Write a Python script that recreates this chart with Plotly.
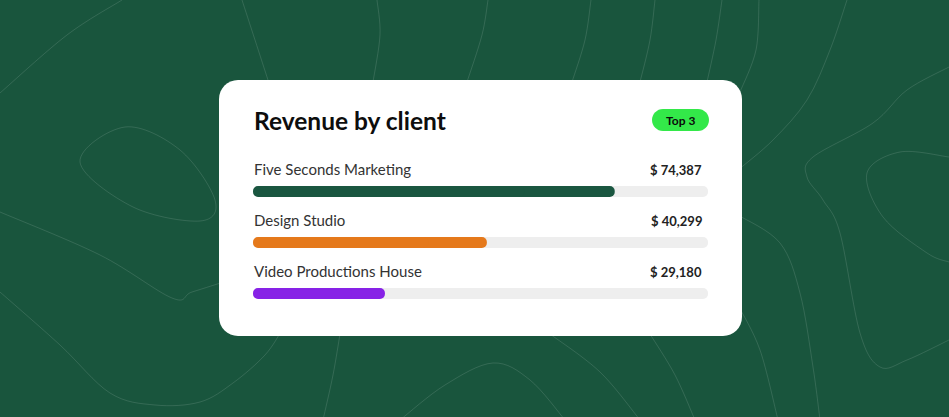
import plotly.graph_objects as go

W, H = 949, 417

# ---- data ----
clients = ["Five Seconds Marketing", "Design Studio", "Video Productions House"]
revenue = [74387, 40299, 29180]
progress = [79.5, 51.4, 29.0]          # filled share of each track, percent
bar_colors = ["#1a5640", "#e5791b", "#8722e6"]
title_text = "Revenue by client"
badge_text = "Top 3"

BG = "#19553d"
LINE = "rgba(255,255,255,0.12)"
FONT = "Lato"


def px(x):
    return x / W


def py(y):
    return 1 - y / H


def smooth_path(points, closed=False):
    pts = [(px(x), py(y)) for x, y in points]
    n = len(pts)
    if closed:
        get = lambda i: pts[i % n]
        segs = range(n)
    else:
        get = lambda i: pts[min(max(i, 0), n - 1)]
        segs = range(n - 1)
    d = "M %.5f,%.5f" % pts[0]
    for i in segs:
        p0, p1, p2, p3 = get(i - 1), get(i), get(i + 1), get(i + 2)
        c1 = (p1[0] + (p2[0] - p0[0]) / 6, p1[1] + (p2[1] - p0[1]) / 6)
        c2 = (p2[0] - (p3[0] - p1[0]) / 6, p2[1] - (p3[1] - p1[1]) / 6)
        d += " C %.5f,%.5f %.5f,%.5f %.5f,%.5f" % (c1 + c2 + p2)
    if closed:
        d += " Z"
    return d


def round_rect(x0, y0, x1, y1, r):
    k = 0.5523 * r
    P = lambda x, y: "%.5f,%.5f" % (px(x), py(y))
    return (
        "M " + P(x0 + r, y0)
        + " L " + P(x1 - r, y0)
        + " C " + P(x1 - r + k, y0) + " " + P(x1, y0 + r - k) + " " + P(x1, y0 + r)
        + " L " + P(x1, y1 - r)
        + " C " + P(x1, y1 - r + k) + " " + P(x1 - r + k, y1) + " " + P(x1 - r, y1)
        + " L " + P(x0 + r, y1)
        + " C " + P(x0 + r - k, y1) + " " + P(x0, y1 - r + k) + " " + P(x0, y1 - r)
        + " L " + P(x0, y0 + r)
        + " C " + P(x0, y0 + r - k) + " " + P(x0 + r - k, y0) + " " + P(x0 + r, y0)
        + " Z"
    )


# decorative contour lines (background only)
contours_open = [
    [(122, 0), (67, 35), (0, 93)],
    [(0, 212), (100, 255), (172, 298), (192, 292), (230, 280)],
    [(0, 292), (60, 345), (110, 393), (155, 405), (200, 402), (233, 383), (265, 355), (282, 330)],
    [(242, 0), (255, 40), (268, 80)],
    [(377, 0), (380, 35), (373, 82)],
    [(488, 0), (482, 35), (467, 82)],
    [(591, 0), (585, 40), (572, 82)],
    [(655, 0), (650, 40), (640, 82)],
    [(722, 0), (716, 40), (707, 82)],
    [(759, 0), (756, 50), (740, 92)],
    [(847, 0), (830, 50), (807, 100), (773, 140), (738, 170)],
    [(949, 67), (907, 90), (873, 123), (813, 157), (807, 177), (823, 200), (840, 233),
     (860, 333), (880, 367), (907, 360), (949, 340)],
    [(949, 157), (900, 152), (867, 173), (883, 217), (927, 253), (949, 262)],
    [(738, 215), (780, 243), (800, 293), (813, 367), (820, 420)],
    [(738, 305), (760, 350), (778, 420)],
    [(340, 334), (333, 375), (323, 420)],
    [(400, 420), (445, 385), (493, 363), (530, 380), (565, 420)],
    [(550, 334), (600, 372), (640, 420)],
    [(650, 334), (675, 375), (695, 420)],
]
contours_closed = [
    [(125, 127), (80, 162), (133, 207), (200, 221), (215, 200), (180, 150)],
]

shapes = []
for pts in contours_open:
    shapes.append(dict(type="path", xref="paper", yref="paper", layer="below",
                       path=smooth_path(pts), line=dict(color=LINE, width=1)))
for pts in contours_closed:
    shapes.append(dict(type="path", xref="paper", yref="paper", layer="below",
                       path=smooth_path(pts, closed=True), line=dict(color=LINE, width=1)))

# card
shapes.append(dict(type="path", xref="paper", yref="paper", layer="below",
                   path=round_rect(219, 80, 742, 336, 19),
                   fillcolor="#ffffff", line=dict(width=0)))
# badge
shapes.append(dict(type="path", xref="paper", yref="paper", layer="below",
                   path=round_rect(652, 109, 709, 131, 11),
                   fillcolor="#33e849", line=dict(width=0)))

rows = list(range(len(clients)))
track = [100] * len(rows)
BW = 0.216

fig = go.Figure()
# each bar is drawn as two overlapping pieces growing in opposite directions,
# so that both of its ends get the rounded corners
for vals, colors in ((track, ["#eeeeee"] * len(rows)), (progress, bar_colors)):
    q1 = [v * 0.25 for v in vals]
    q3 = [v * 0.75 for v in vals]
    fig.add_trace(go.Bar(x=q3, base=q1, y=rows, orientation="h", width=BW,
                         marker=dict(color=colors, line=dict(width=0)),
                         hoverinfo="skip"))
    fig.add_trace(go.Bar(x=[-v for v in q3], base=q3, y=rows, orientation="h", width=BW,
                         marker=dict(color=colors, line=dict(width=0)),
                         hoverinfo="skip"))

annotations = [
    dict(text=title_text, xref="paper", yref="paper", x=px(252), y=py(120),
         xanchor="left", yanchor="middle", showarrow=False,
         font=dict(family=FONT, size=24.5, color="#0d0d0d", weight=700)),
    dict(text=badge_text, xref="paper", yref="paper", x=px(680.5), y=py(120),
         xanchor="center", yanchor="middle", showarrow=False,
         font=dict(family=FONT, size=12, color="#0a0a0a", weight=700)),
]
for i, (name, val) in enumerate(zip(clients, revenue)):
    annotations.append(dict(text=name, xref="x domain", yref="y", x=0, y=i,
                            xanchor="left", yanchor="middle", xshift=-1.5, yshift=22.5,
                            showarrow=False,
                            font=dict(family=FONT, size=15, color="#333333")))
    annotations.append(dict(text="$ {:,}".format(val), xref="x domain", yref="y",
                            x=1, y=i, xanchor="right", yanchor="middle",
                            xshift=-4, yshift=21.5, showarrow=False,
                            font=dict(family=FONT, size=13, color="#222222", weight=700)))

fig.update_layout(
    width=W, height=H,
    margin=dict(l=0, r=0, t=0, b=0, pad=0),
    paper_bgcolor=BG, plot_bgcolor="rgba(0,0,0,0)",
    barmode="overlay", barcornerradius=5.5,
    showlegend=False,
    shapes=shapes, annotations=annotations,
    xaxis=dict(domain=[px(253), px(708)], range=[0, 100], visible=False, fixedrange=True),
    yaxis=dict(domain=[py(319), py(166)], range=[2.5, -0.5], visible=False, fixedrange=True),
)

fig.write_html("out.html", config={"displayModeBar": False})
